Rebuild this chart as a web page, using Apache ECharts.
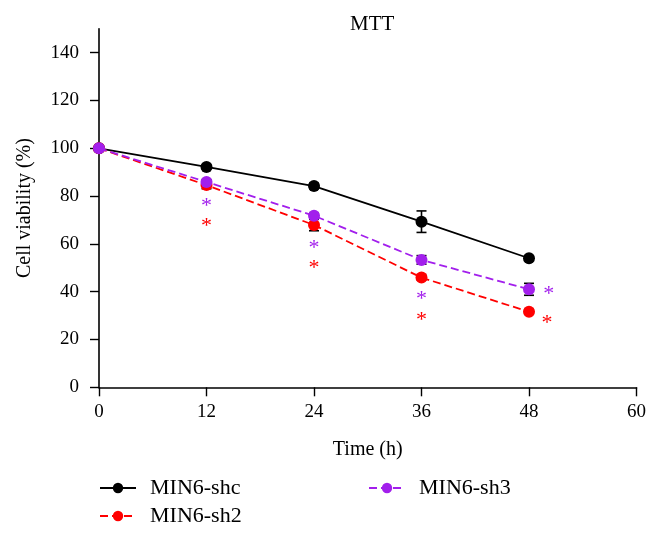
<!DOCTYPE html>
<html>
<head>
<meta charset="utf-8">
<script src="https://cdn.jsdelivr.net/npm/echarts@6/dist/echarts.min.js"></script>
<style>
html,body{margin:0;padding:0;background:#fff;}
#chart{width:661px;height:536px;}
</style>
</head>
<body>
<div id="chart"></div>
<script>
// ---- data ----
const times = [0, 12, 24, 36, 48];
const shcValues = [100, 92.2, 84.2, 69.3, 54.0];
const shcErrors = [0, 1.0, 1.2, 4.5, 1.0];
const sh2Values = [100, 84.6, 67.9, 45.9, 31.6];
const sh2Errors = [0, 1.5, 2.4, 1.0, 1.0];
const sh3Values = [100, 85.9, 71.8, 53.3, 41.0];
const sh3Errors = [0, 1.0, 1.0, 1.8, 2.5];
// significance asterisks [time, value]
const sh2Stars = [[12, 68.6], [24, 50.9], [36, 29.5], [50, 28.2]];
const sh3Stars = [[12, 77.2], [24, 59.5], [36, 38.2], [50.2, 40.0]];
const xTicks = [0, 12, 24, 36, 48, 60];
const yTicks = [0, 20, 40, 60, 80, 100, 120, 140];
const seriesNames = ['MIN6-shc', 'MIN6-sh2', 'MIN6-sh3'];

const FONT = 'Liberation Serif';
const colors = ['#000000', '#ff0000', '#a21fec'];

function pairs(xs, ys) { return xs.map((x, i) => [x, ys[i]]); }
function errData(xs, ys, es) { return xs.map((x, i) => [x, ys[i] - es[i], ys[i] + es[i]]); }

function errorSeries(xs, ys, es, z) {
  return {
    type: 'custom',
    z: z,
    silent: true,
    data: errData(xs, ys, es),
    renderItem: function (params, api) {
      const x = api.value(0);
      const lo = api.coord([x, api.value(1)]);
      const hi = api.coord([x, api.value(2)]);
      const hw = 5;
      const st = { stroke: '#000', lineWidth: 1.6 };
      return {
        type: 'group',
        children: [
          { type: 'line', shape: { x1: lo[0], y1: lo[1], x2: hi[0], y2: hi[1] }, style: st },
          { type: 'line', shape: { x1: lo[0] - hw, y1: lo[1], x2: lo[0] + hw, y2: lo[1] }, style: st },
          { type: 'line', shape: { x1: hi[0] - hw, y1: hi[1], x2: hi[0] + hw, y2: hi[1] }, style: st }
        ]
      };
    }
  };
}

function starSeries(data, color) {
  return {
    type: 'custom',
    z: 10,
    silent: true,
    data: data,
    renderItem: function (params, api) {
      const p = api.coord([api.value(0), api.value(1)]);
      return {
        type: 'text',
        x: p[0],
        y: p[1] + 3,
        style: {
          text: '*',
          fill: color,
          font: '22px "' + FONT + '"',
          align: 'center',
          verticalAlign: 'middle'
        }
      };
    }
  };
}

function lineSeries(name, values, color, dashed, z) {
  return {
    name: name,
    type: 'line',
    z: z,
    data: pairs(times, values),
    symbol: 'circle',
    symbolSize: 12,
    showSymbol: true,
    smooth: false,
    itemStyle: { color: color },
    lineStyle: { color: color, width: 1.8, type: dashed ? [8, 4] : 'solid' },
    emphasis: { disabled: true }
  };
}

const legendText = { fontFamily: FONT, fontSize: 22, color: '#000', lineHeight: 22, padding: [0, 0, 0, 9] };

const chart = echarts.init(document.getElementById('chart'), null, { renderer: 'canvas' });
chart.setOption({
  backgroundColor: '#ffffff',
  animation: false,
  title: {
    text: 'MTT',
    left: 345,
    top: 9,
    textStyle: { fontFamily: FONT, fontSize: 21, fontWeight: 'normal', color: '#000' }
  },
  legend: [
    {
      data: [seriesNames[0], seriesNames[1]],
      orient: 'vertical',
      left: 99,
      top: 477,
      itemWidth: 36,
      itemHeight: 13,
      itemGap: 6,
      textStyle: legendText,
      padding: 0
    },
    {
      data: [seriesNames[2]],
      orient: 'vertical',
      left: 368,
      top: 477,
      itemWidth: 36,
      itemHeight: 13,
      itemGap: 6,
      textStyle: legendText,
      padding: 0
    }
  ],
  grid: { left: 99, right: 24.5, top: 28.8, bottom: 148.7, containLabel: false },
  xAxis: {
    type: 'value',
    min: 0,
    max: 60,
    interval: 12,
    name: 'Time (h)',
    nameLocation: 'middle',
    nameGap: 52,
    nameTextStyle: { fontFamily: FONT, fontSize: 20, color: '#000' },
    splitLine: { show: false },
    axisLine: { show: true, onZero: false, lineStyle: { color: '#000', width: 1.6 } },
    axisTick: { show: true, length: 9, lineStyle: { color: '#000', width: 1.4 }, customValues: xTicks },
    axisLabel: { fontFamily: FONT, fontSize: 19, color: '#000', margin: 15, customValues: xTicks }
  },
  yAxis: {
    type: 'value',
    min: 0,
    max: 150,
    name: 'Cell viability (%)',
    nameLocation: 'middle',
    nameGap: 64,
    nameTextStyle: { fontFamily: FONT, fontSize: 20, color: '#000' },
    splitLine: { show: false },
    axisLine: { show: true, onZero: false, lineStyle: { color: '#000', width: 1.6 } },
    axisTick: { show: true, length: 9, lineStyle: { color: '#000', width: 1.4 }, customValues: yTicks },
    axisLabel: { fontFamily: FONT, fontSize: 19, color: '#000', margin: 20, customValues: yTicks }
  },
  series: [
    errorSeries(times, shcValues, shcErrors, 1),
    errorSeries(times, sh2Values, sh2Errors, 1),
    errorSeries(times, sh3Values, sh3Errors, 1),
    lineSeries(seriesNames[0], shcValues, colors[0], false, 2),
    lineSeries(seriesNames[1], sh2Values, colors[1], true, 3),
    lineSeries(seriesNames[2], sh3Values, colors[2], true, 4),
    starSeries(sh3Stars, colors[2]),
    starSeries(sh2Stars, colors[1])
  ]
});
</script>
</body>
</html>
